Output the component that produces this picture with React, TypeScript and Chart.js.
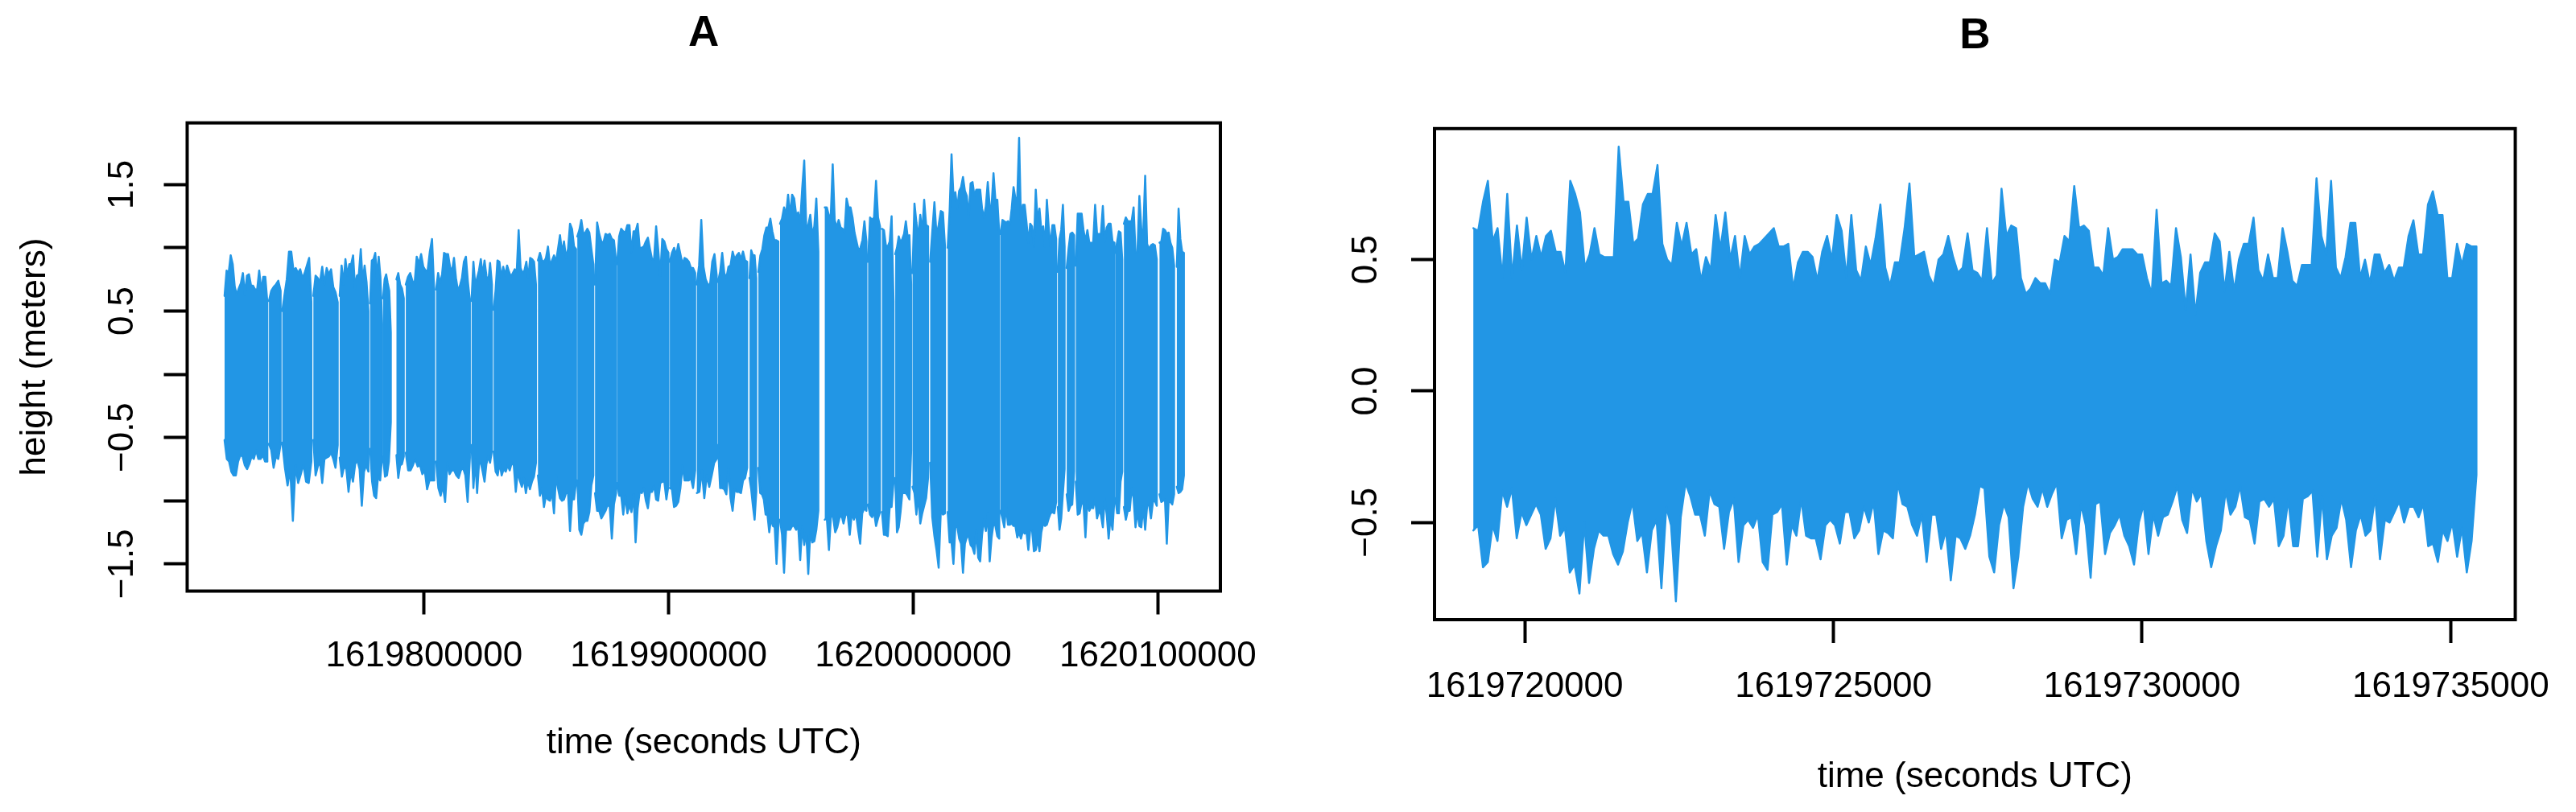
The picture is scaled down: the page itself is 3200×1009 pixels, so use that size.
import React, { useEffect, useRef } from "react";
import { Chart, registerables } from "chart.js";

Chart.register(...registerables);

const FONT = "'Liberation Sans', Arial, Helvetica, sans-serif";
const BLUE = "#2296E5";

// ---------------- Panel A: bursts of wave-height records ----------------
const aBurstStart = [
  1619718400, 1619736540, 1619742000, 1619754710, 1619765470, 1619777910, 1619783210, 1619788680,
  1619792500, 1619804900, 1619819390, 1619828410, 1619846540, 1619862640, 1619869880, 1619878900,
  1619900460, 1619911520, 1619920180, 1619933050, 1619936670, 1619945520, 1619963820, 1619981530,
  1619987230, 1619992620, 1619999700, 1620006910, 1620014090, 1620035710, 1620059120, 1620062740,
  1620066460, 1620082680, 1620086140, 1620100690, 1620107770,
];
const aBurstEnd = [
  1619735880, 1619741310, 1619753890, 1619764650, 1619777220, 1619782820, 1619786370, 1619791670,
  1619804120, 1619818700, 1619827720, 1619845720, 1619862110, 1619869190, 1619878470, 1619899900,
  1619910830, 1619919620, 1619932090, 1619935810, 1619944830, 1619961190, 1619980840, 1619986400,
  1619991930, 1619999140, 1620006050, 1620013000, 1620035150, 1620058420, 1620061880, 1620065760,
  1620082260, 1620085450, 1620099570, 1620106650, 1620110660,
];
const aHigh = [
  [0.62, 0.82, 0.80, 0.94, 0.87, 0.69, 0.63, 0.68, 0.72, 0.80, 0.63, 0.78, 0.79, 0.70, 0.70, 0.67, 0.67, 0.82, 0.66, 0.77, 0.77, 0.57],
  [0.58, 0.66, 0.69, 0.71, 0.74, 0.66],
  [0.50, 0.63, 0.75, 0.97, 0.97, 0.82, 0.84, 0.80, 0.83, 0.76, 0.80, 0.86, 0.92, 0.57],
  [0.62, 0.78, 0.76, 0.73, 0.85, 0.71, 0.84, 0.79, 0.83, 0.69, 0.65, 0.57],
  [0.62, 0.86, 0.71, 0.91, 0.78, 0.87, 0.87, 0.94, 0.68, 0.78, 0.79, 0.99, 0.73, 0.86, 0.73, 0.50],
  [0.56, 0.90, 0.91, 0.96, 0.76, 0.93, 0.77, 0.40],
  [0.60, 0.75, 0.79, 0.72, 0.66, 0.33],
  [0.75, 0.80, 0.71, 0.68, 0.60],
  [0.71, 0.77, 0.80, 0.74, 0.71, 0.93, 0.87, 0.95, 0.85, 0.82, 0.82, 0.97, 1.07, 0.65],
  [0.67, 0.80, 0.72, 0.79, 0.96, 0.95, 0.95, 0.85, 0.81, 0.92, 0.76, 0.66, 0.70, 0.76, 0.89, 0.93, 0.73, 0.58],
  [0.58, 0.89, 0.70, 0.76, 0.82, 0.91, 0.78, 0.90, 0.78, 0.72, 0.88, 0.71],
  [0.51, 0.66, 0.90, 0.89, 0.76, 0.85, 0.78, 0.86, 0.81, 0.77, 0.80, 0.83, 0.81, 1.14, 0.84, 0.80, 0.82, 0.89, 0.76, 0.92, 0.91, 0.89, 0.71],
  [0.90, 0.96, 0.90, 0.89, 0.92, 1.01, 0.86, 0.90, 0.94, 0.89, 0.99, 1.10, 0.96, 1.05, 0.92, 0.99, 1.19, 1.15, 1.01, 0.99],
  [1.09, 1.14, 1.22, 1.11, 1.12, 1.15, 1.12, 0.99, 0.87],
  [0.71, 1.20, 1.11, 1.05, 1.04, 1.11, 1.10, 1.11, 1.07, 1.06, 0.89],
  [0.87, 1.09, 1.15, 1.13, 1.12, 1.18, 1.18, 0.96, 1.13, 1.13, 1.19, 1.00, 1.00, 1.01, 1.05, 1.08, 0.99, 0.91, 0.91, 1.17, 0.99, 0.78, 1.07, 1.05, 0.99, 0.96],
  [0.89, 0.96, 1.00, 0.94, 1.03, 0.95, 0.87, 0.92, 0.91, 0.89, 0.84, 0.84, 0.80],
  [0.71, 0.86, 1.22, 0.85, 0.75, 0.71, 0.71, 0.89, 0.95, 0.78],
  [0.73, 0.81, 0.96, 0.80, 0.76, 0.85, 0.86, 0.97, 0.91, 0.94, 0.96, 0.91, 0.97, 0.90, 0.89],
  [0.76, 0.98, 0.94, 0.94, 0.76],
  [0.81, 0.94, 0.99, 1.10, 1.16, 1.16, 1.23, 1.13, 1.06, 1.06, 1.05],
  [1.19, 1.23, 1.32, 1.26, 1.42, 1.25, 1.42, 1.39, 1.26, 1.28, 1.20, 1.47, 1.69, 1.17, 1.18, 1.26, 1.10, 1.17, 1.39, 0.97],
  [1.32, 1.32, 1.26, 1.24, 1.66, 1.22, 1.16, 1.22, 1.16, 1.15, 1.12, 1.39, 1.32, 1.32, 1.24, 1.12, 1.05, 0.98, 1.00, 1.06, 1.21, 1.05],
  [0.89, 1.24, 1.22, 1.24, 1.53, 1.24, 1.17],
  [1.15, 1.14, 1.02, 1.01, 1.05, 1.25, 0.58],
  [0.95, 1.00, 1.09, 1.04, 1.07, 1.11, 1.21, 1.09, 1.10, 0.71],
  [0.80, 1.35, 1.20, 1.08, 1.26, 1.12, 1.38, 1.18, 1.17],
  [0.89, 1.13, 1.36, 1.10, 1.18, 1.29, 1.28, 1.00],
  [1.00, 1.29, 1.74, 1.41, 1.44, 1.31, 1.45, 1.48, 1.56, 1.45, 1.41, 1.24, 1.51, 1.52, 1.41, 1.46, 1.46, 1.46, 1.31, 1.24, 1.33, 1.52, 1.33, 1.33, 1.59, 1.38, 1.38, 1.12],
  [1.11, 1.22, 1.21, 1.20, 1.21, 1.18, 1.31, 1.48, 1.39, 1.39, 1.87, 1.20, 1.34, 1.34, 1.20, 1.04, 1.19, 1.17, 1.01, 1.46, 1.21, 1.31, 1.14, 1.17, 1.01, 1.38, 1.16, 1.01, 1.18, 1.18, 1.07],
  [0.81, 1.07, 1.14, 1.34, 1.01],
  [0.84, 0.99, 1.11, 1.12, 1.10],
  [0.86, 1.27, 1.27, 1.27, 1.14, 1.05, 1.14, 1.04, 1.04, 1.04, 1.34, 1.11, 1.11, 1.11, 1.33, 1.05, 1.16, 1.19, 1.19, 1.05, 1.04],
  [0.96, 1.05, 1.13, 1.12, 0.91],
  [1.19, 1.24, 1.21, 1.21, 1.21, 1.32, 0.96, 0.96, 1.41, 1.15, 1.11, 1.57, 1.03, 0.99, 1.02, 1.03, 1.02, 0.91],
  [1.04, 1.05, 1.15, 1.14, 1.11, 1.12, 1.04, 1.00, 0.86],
  [0.85, 1.31, 1.07, 0.97, 0.96],
];
const aLow = [
  [-0.52, -0.67, -0.69, -0.77, -0.80, -0.80, -0.69, -0.64, -0.65, -0.72, -0.75, -0.71, -0.65, -0.67, -0.60, -0.67, -0.67, -0.64, -0.69, -0.69],
  [-0.55, -0.60, -0.74, -0.65, -0.67, -0.55],
  [-0.54, -0.74, -0.88, -0.75, -1.16, -0.72, -0.86, -0.79, -0.71, -0.85, -0.86, -0.69],
  [-0.52, -0.80, -0.73, -0.69, -0.86, -0.67, -0.66, -0.65, -0.62, -0.67, -0.74, -0.56],
  [-0.66, -0.81, -0.73, -0.75, -0.93, -0.77, -0.85, -0.71, -0.68, -0.75, -1.04, -0.77, -0.72, -0.77],
  [-0.59, -0.85, -0.96, -0.98, -0.80, -0.84, -0.65],
  [-0.65, -0.81, -0.80, -0.69, -0.38],
  [-0.64, -0.82, -0.72, -0.71, -0.65],
  [-0.62, -0.76, -0.76, -0.72, -0.67, -0.73, -0.72, -0.79, -0.76, -0.91, -0.84, -0.84, -0.84],
  [-0.69, -0.90, -0.96, -0.88, -1.01, -0.70, -0.79, -0.76, -0.76, -0.80, -0.82, -0.76, -0.74, -0.80, -1.01, -0.66],
  [-0.56, -0.90, -0.67, -0.94, -0.71, -0.70, -0.77, -0.85, -0.71, -0.65, -0.70, -0.60],
  [-0.61, -0.77, -0.80, -0.70, -0.80, -0.75, -0.77, -0.72, -0.76, -0.70, -0.72, -0.93, -0.77, -0.84, -0.89, -0.82, -0.94, -0.84, -0.91, -0.85, -0.81, -0.70],
  [-0.80, -0.96, -0.90, -1.05, -0.96, -0.99, -1.00, -0.93, -1.10, -0.80, -0.90, -0.98, -1.00, -0.99, -0.94, -0.94, -1.24, -0.99, -0.99, -0.85],
  [-0.84, -1.23, -1.27, -1.18, -1.16, -1.16, -1.09, -0.88, -0.80],
  [-0.94, -1.08, -1.08, -1.14, -1.11, -1.08, -1.03, -1.05, -1.30, -1.03, -0.94],
  [-0.86, -0.96, -0.96, -1.11, -0.96, -1.10, -1.03, -1.09, -0.95, -1.33, -1.06, -0.93, -0.94, -0.90, -1.00, -1.06, -0.93, -0.93, -0.88, -0.99, -1.00, -0.86, -0.85, -0.85, -0.99, -0.88],
  [-0.90, -0.91, -1.05, -1.04, -1.01, -0.90, -0.72, -0.84, -0.84, -0.84, -0.82, -0.90, -0.76],
  [-0.94, -0.93, -0.76, -0.98, -0.80, -0.89, -0.80, -0.70, -0.67],
  [-0.56, -0.90, -0.90, -0.91, -0.95, -0.74, -0.98, -1.08, -0.91, -0.93, -0.93, -0.94, -0.84, -0.82, -0.74],
  [-0.82, -0.91, -1.04, -1.15, -0.93],
  [-0.74, -0.94, -0.95, -0.99, -1.11, -1.11, -1.25, -1.14, -1.20, -1.21, -1.50, -1.20],
  [-1.15, -1.27, -1.57, -1.23, -1.23, -1.23, -1.20, -1.20, -1.23, -1.20, -1.47, -1.20, -1.35, -1.24, -1.58, -1.25, -1.33, -1.32, -1.23, -1.08],
  [-1.15, -1.14, -1.39, -1.11, -1.13, -1.25, -1.21, -1.14, -1.11, -1.18, -1.11, -1.11, -1.27, -1.10, -1.15, -1.10, -1.23, -1.34, -1.10, -1.06, -1.08],
  [-1.03, -1.11, -1.13, -1.09, -1.20, -1.14, -1.09],
  [-1.09, -1.27, -1.27, -1.28, -1.05, -1.05, -0.85],
  [-0.82, -1.25, -1.21, -1.09, -0.94, -0.94, -0.94, -0.96, -0.99, -0.60],
  [-0.89, -0.94, -1.11, -0.95, -1.18, -1.10, -1.04, -0.98, -0.82],
  [-0.70, -1.13, -1.28, -1.39, -1.53, -1.08, -1.11, -1.10],
  [-1.09, -1.33, -1.33, -1.50, -1.21, -1.20, -1.30, -1.34, -1.57, -1.34, -1.29, -1.28, -1.35, -1.37, -1.42, -1.23, -1.45, -1.48, -1.27, -1.15, -1.24, -1.10, -1.48, -1.29, -1.18, -1.20, -1.28, -1.30],
  [-1.08, -1.14, -1.21, -1.04, -1.19, -1.19, -1.18, -1.20, -1.20, -1.29, -1.25, -1.30, -1.24, -1.26, -1.25, -1.39, -1.23, -1.23, -1.40, -1.39, -1.30, -1.40, -1.25, -1.18, -1.20, -1.19, -1.14, -1.10, -1.09, -1.10, -1.01],
  [-1.05, -1.23, -1.14, -0.94, -0.75],
  [-0.95, -1.08, -1.04, -1.03, -0.77],
  [-0.85, -1.11, -1.10, -1.01, -1.03, -1.29, -1.00, -1.08, -1.05, -1.06, -0.98, -1.14, -1.08, -1.11, -1.21, -0.98, -1.11, -1.30, -1.13, -1.23, -0.98],
  [-0.98, -1.10, -1.10, -0.85, -0.77],
  [-1.05, -1.15, -1.08, -1.08, -0.90, -0.98, -1.21, -1.08, -1.20, -1.21, -1.05, -1.23, -1.04, -1.03, -1.14, -1.01, -1.00, -1.04],
  [-0.95, -1.01, -1.00, -0.99, -1.34, -1.01, -1.01, -1.03, -0.95],
  [-0.89, -0.94, -0.93, -0.91, -0.80],
];
const aXTicks = [1619800000, 1619900000, 1620000000, 1620100000];
const aYTicks = [-1.5, -1, -0.5, 0, 0.5, 1, 1.5];
const aYLabels = ["\u22121.5", "", "\u22120.5", "", "0.5", "", "1.5"];

// ---------------- Panel B: one continuous record ----------------
const bStart = 1619719166;
const bEnd = 1619735417;
const bHigh = [
  0.62, 0.61, 0.72, 0.80, 0.57, 0.62, 0.43, 0.75, 0.43, 0.63, 0.46, 0.66, 0.50, 0.59, 0.51, 0.59, 0.61, 0.53, 0.53, 0.45,
  0.80, 0.75, 0.68, 0.47, 0.52, 0.62, 0.52, 0.51, 0.51, 0.51, 0.93, 0.72, 0.72, 0.56, 0.58, 0.71, 0.75, 0.75, 0.86, 0.56,
  0.50, 0.48, 0.64, 0.55, 0.64, 0.52, 0.54, 0.42, 0.51, 0.46, 0.67, 0.54, 0.68, 0.50, 0.59, 0.43, 0.59, 0.52, 0.55, 0.56,
  0.58, 0.60, 0.62, 0.55, 0.55, 0.56, 0.39, 0.49,
  0.53, 0.53, 0.51, 0.42, 0.53, 0.59, 0.50, 0.67, 0.61, 0.43, 0.67, 0.46, 0.42, 0.55, 0.48, 0.58, 0.71, 0.47, 0.40, 0.49,
  0.49, 0.62, 0.79, 0.51, 0.52, 0.53, 0.44, 0.40, 0.50, 0.52, 0.59, 0.51, 0.45, 0.47, 0.60, 0.46, 0.45, 0.42, 0.62, 0.41,
  0.44, 0.77, 0.59, 0.63, 0.62, 0.43, 0.37, 0.39, 0.43, 0.41, 0.41, 0.37, 0.50, 0.49, 0.59, 0.57, 0.78, 0.62, 0.63, 0.61,
  0.47, 0.47, 0.44, 0.62, 0.50, 0.51, 0.54, 0.54, 0.54, 0.52, 0.52, 0.43, 0.37, 0.69, 0.41, 0.42, 0.40, 0.62,
  0.51, 0.31, 0.52, 0.29, 0.45, 0.49, 0.49, 0.60, 0.57, 0.38, 0.53, 0.38, 0.50, 0.56, 0.56, 0.66, 0.46, 0.42, 0.52, 0.43,
  0.43, 0.62, 0.53, 0.42, 0.40, 0.48, 0.48, 0.48, 0.81, 0.59, 0.52, 0.80, 0.47, 0.43, 0.51, 0.64, 0.64, 0.43, 0.50, 0.41,
  0.52, 0.52, 0.45, 0.48, 0.42, 0.47, 0.47, 0.59, 0.65, 0.52, 0.52, 0.71, 0.76, 0.67, 0.67, 0.43, 0.43, 0.56, 0.48, 0.56,
  0.55, 0.55,
];
const bLow = [
  -0.53, -0.51, -0.67, -0.65, -0.51, -0.57, -0.38, -0.44, -0.37, -0.56, -0.46, -0.51, -0.47, -0.43, -0.47, -0.60, -0.56, -0.41, -0.55, -0.52,
  -0.69, -0.66, -0.77, -0.50, -0.73, -0.60, -0.53, -0.55, -0.55, -0.62, -0.66, -0.61, -0.50, -0.42, -0.57, -0.54, -0.69, -0.53, -0.49, -0.75,
  -0.44, -0.51, -0.80, -0.48, -0.35, -0.40, -0.47, -0.47, -0.55, -0.38, -0.43, -0.44, -0.60, -0.46, -0.41, -0.65, -0.51, -0.49, -0.52, -0.47,
  -0.65, -0.68, -0.47, -0.46, -0.43, -0.66, -0.51, -0.55, -0.41,
  -0.55, -0.56, -0.56, -0.64, -0.51, -0.49, -0.51, -0.58, -0.46, -0.46, -0.56, -0.53, -0.44, -0.50, -0.42, -0.62, -0.53, -0.54, -0.56, -0.35,
  -0.43, -0.44, -0.51, -0.55, -0.47, -0.65, -0.47, -0.47, -0.60, -0.53, -0.72, -0.55, -0.56, -0.60, -0.55, -0.47, -0.36, -0.37, -0.63, -0.69,
  -0.51, -0.43, -0.48, -0.75, -0.63, -0.44, -0.35, -0.41, -0.44, -0.37, -0.44, -0.39, -0.35, -0.56, -0.49, -0.48, -0.62, -0.43, -0.51, -0.71,
  -0.43, -0.42, -0.62, -0.54, -0.51, -0.47, -0.55, -0.59, -0.66, -0.50, -0.43, -0.62, -0.47, -0.55, -0.48, -0.47, -0.42, -0.36,
  -0.49, -0.54, -0.37, -0.42, -0.39, -0.57, -0.67, -0.59, -0.53, -0.38, -0.47, -0.44, -0.36, -0.48, -0.49, -0.58, -0.42, -0.41, -0.44, -0.41,
  -0.59, -0.55, -0.41, -0.59, -0.59, -0.41, -0.40, -0.38, -0.63, -0.40, -0.64, -0.55, -0.52, -0.41, -0.49, -0.67, -0.53, -0.47, -0.55, -0.53,
  -0.40, -0.64, -0.49, -0.50, -0.46, -0.42, -0.50, -0.44, -0.44, -0.48, -0.43, -0.59, -0.58, -0.65, -0.53, -0.57, -0.50, -0.63, -0.52, -0.69,
  -0.57, -0.32,
];
const bXTicks = [1619720000, 1619725000, 1619730000, 1619735000];
const bYTicks = [-0.5, 0, 0.5];
const bYLabels = ["\u22120.5", "0.0", "0.5"];

// Build closed outlines (upper envelope left->right, lower envelope right->left) per burst.
function burstShape(starts: number[], ends: number[], highs: number[][], lows: number[][]) {
  const pts: { x: number; y: number | null }[] = [];
  starts.forEach((s, i) => {
    const e = ends[i];
    const hi = highs[i];
    const lo = lows[i];
    hi.forEach((v, k) => pts.push({ x: s + ((e - s) * k) / (hi.length - 1), y: v }));
    for (let k = lo.length - 1; k >= 0; k--) {
      pts.push({ x: s + ((e - s) * k) / (lo.length - 1), y: lo[k] });
    }
    pts.push({ x: e, y: null });
  });
  return pts;
}

type PanelSpec = {
  title: string;
  titlePad: { top: number; bottom: number };
  data: { x: number; y: number | null }[];
  xMin: number;
  xMax: number;
  yMin: number;
  yMax: number;
  xTicks: number[];
  yTicks: number[];
  yLabels: string[];
  yTitle: string | null;
  left: number;
  right: number;
  bottom: number;
  xTickPad: number;
  xTitlePadBottom: number;
  yLabelOffset: number;
};

function makeConfig(p: PanelSpec): any {
  const framePlugin = {
    id: "rFrame",
    afterDatasetsDraw(chart: any) {
      const { ctx, chartArea: a, scales } = chart;
      ctx.save();
      ctx.strokeStyle = "#000";
      ctx.lineWidth = 4;
      ctx.strokeRect(a.left, a.top, a.right - a.left, a.bottom - a.top);
      ctx.fillStyle = "#000";
      ctx.font = `44px ${FONT}`;
      ctx.textAlign = "center";
      ctx.textBaseline = "middle";
      p.yTicks.forEach((v, i) => {
        const lab = p.yLabels[i];
        if (!lab) return;
        const y = scales.y.getPixelForValue(v);
        ctx.save();
        ctx.translate(a.left - p.yLabelOffset, y);
        ctx.rotate(-Math.PI / 2);
        ctx.fillText(lab, 0, 0);
        ctx.restore();
      });
      ctx.restore();
    },
  };
  return {
    type: "line",
    data: {
      datasets: [
        {
          data: p.data,
          borderColor: BLUE,
          backgroundColor: BLUE,
          borderWidth: 2.5,
          borderJoinStyle: "round",
          borderCapStyle: "round",
          pointRadius: 0,
          pointHoverRadius: 0,
          fill: "shape",
          spanGaps: false,
          tension: 0,
        },
      ],
    },
    options: {
      animation: false,
      responsive: false,
      maintainAspectRatio: false,
      devicePixelRatio: 1,
      events: [],
      layout: { padding: { left: 0, top: 0, right: 1600 - p.right, bottom: 0 } },
      plugins: {
        legend: { display: false },
        tooltip: { enabled: false },
        title: {
          display: true,
          fullSize: false,
          text: p.title,
          color: "#000",
          font: { family: FONT, size: 53, weight: "bold" },
          padding: p.titlePad,
        },
      },
      scales: {
        x: {
          type: "linear",
          position: "bottom",
          min: p.xMin,
          max: p.xMax,
          afterBuildTicks: (s: any) => {
            s.ticks = p.xTicks.map((v) => ({ value: v }));
          },
          afterFit: (s: any) => {
            s.height = 1009 - p.bottom;
          },
          ticks: {
            autoSkip: false,
            maxRotation: 0,
            minRotation: 0,
            color: "#000",
            padding: p.xTickPad,
            font: { family: FONT, size: 44 },
            callback: (v: any) => String(v),
          },
          grid: {
            drawOnChartArea: false,
            drawTicks: true,
            tickLength: 29,
            tickWidth: 4,
            tickColor: "#000",
            color: "#000",
          },
          border: { display: false },
          title: {
            display: true,
            text: "time (seconds UTC)",
            color: "#000",
            font: { family: FONT, size: 44 },
            padding: { top: 0, bottom: p.xTitlePadBottom },
          },
        },
        y: {
          type: "linear",
          position: "left",
          min: p.yMin,
          max: p.yMax,
          afterBuildTicks: (s: any) => {
            s.ticks = p.yTicks.map((v) => ({ value: v }));
          },
          afterFit: (s: any) => {
            s.width = p.left;
          },
          ticks: { display: false },
          grid: {
            drawOnChartArea: false,
            drawTicks: true,
            tickLength: 29,
            tickWidth: 4,
            tickColor: "#000",
            color: "#000",
          },
          border: { display: false },
          title: {
            display: !!p.yTitle,
            text: p.yTitle || "",
            color: "#000",
            font: { family: FONT, size: 44 },
            padding: { top: 17, bottom: 0 },
          },
        },
      },
    },
    plugins: [framePlugin],
  };
}

const panelA: PanelSpec = {
  title: "A",
  titlePad: { top: 10.7, bottom: 78.4 },
  data: burstShape(aBurstStart, aBurstEnd, aHigh, aLow),
  xMin: 1619703100,
  xMax: 1620125580,
  yMin: -1.715,
  yMax: 1.988,
  xTicks: aXTicks,
  yTicks: aYTicks,
  yLabels: aYLabels,
  yTitle: "height (meters)",
  left: 232.5,
  right: 1516,
  bottom: 734.5,
  xTickPad: 25.6,
  xTitlePadBottom: 58.6,
  yLabelOffset: 80,
};

const panelB: PanelSpec = {
  title: "B",
  titlePad: { top: 13.7, bottom: 82.5 },
  data: burstShape([bStart], [bEnd], [bHigh], [bLow]),
  xMin: 1619718537,
  xMax: 1619736046,
  yMin: -0.8696,
  yMax: 0.9988,
  xTicks: bXTicks,
  yTicks: bYTicks,
  yLabels: bYLabels,
  yTitle: null,
  left: 182,
  right: 1525.3,
  bottom: 770,
  xTickPad: 28.8,
  xTitlePadBottom: 16.6,
  yLabelOffset: 83.7,
};

function Panel({ spec, left }: { spec: PanelSpec; left: number }) {
  const ref = useRef<HTMLCanvasElement | null>(null);
  useEffect(() => {
    if (!ref.current) return;
    const chart = new Chart(ref.current, makeConfig(spec));
    return () => chart.destroy();
  }, [spec]);
  return (
    <canvas
      ref={ref}
      width={1600}
      height={1009}
      style={{ position: "absolute", left, top: 0, width: 1600, height: 1009 }}
    />
  );
}

export default function App() {
  return (
    <div
      style={{
        position: "absolute",
        left: 0,
        top: 0,
        width: 3200,
        height: 1009,
        background: "#fff",
        overflow: "hidden",
      }}
    >
      <Panel spec={panelA} left={0} />
      <Panel spec={panelB} left={1600} />
    </div>
  );
}
